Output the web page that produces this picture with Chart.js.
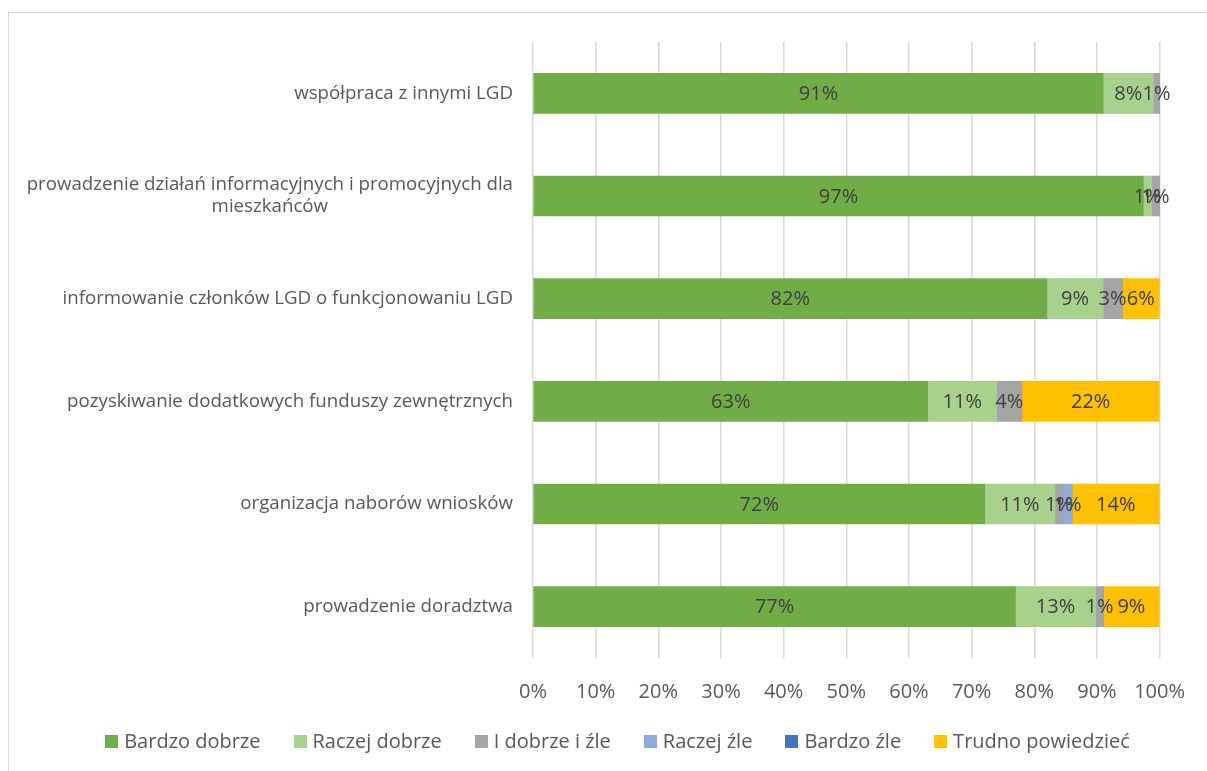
<!DOCTYPE html>
<html>
<head>
<meta charset="utf-8">
<script src="https://cdn.jsdelivr.net/npm/chart.js"></script>
<style>
  html, body { margin: 0; padding: 0; background: #fff; overflow: hidden; }
  #wrap { position: relative; width: 1207px; height: 771px; }
  #frame { position: absolute; left: 8px; top: 12px; width: 1210px; height: 780px; border: 1px solid #d9d9d9; box-sizing: border-box; }
  canvas { position: absolute; left: 0; top: 0; }
  #legend { position: absolute; left: 28px; width: 1179px; top: 728px; display: flex; justify-content: center; gap: 33px;
            font-family: 'Open Sans', 'Liberation Sans', sans-serif; font-size: 20px; color: #595959; line-height: 26px; }
  #legend span.item { display: flex; align-items: center; white-space: nowrap; }
  #legend span.box { display: inline-block; width: 13px; height: 13px; margin-right: 6px; }
</style>
</head>
<body>
<div id="wrap">
  <div id="frame"></div>
  <canvas id="chart" width="1207" height="771"></canvas>
  <div id="legend"></div>
</div>
<script>
const categories = [
  'współpraca z innymi LGD',
  ['prowadzenie działań informacyjnych i promocyjnych dla', 'mieszkańców'],
  'informowanie członków LGD o funkcjonowaniu LGD',
  'pozyskiwanie dodatkowych funduszy zewnętrznych',
  'organizacja naborów wniosków',
  'prowadzenie doradztwa'
]
const seriesNames = ['Bardzo dobrze', 'Raczej dobrze', 'I dobrze i źle', 'Raczej źle', 'Bardzo źle', 'Trudno powiedzieć']
const bardzoDobrze = [91, 97.4, 82, 63, 72.1, 77]
const raczejDobrze = [8, 1.3, 9, 11, 11.2, 12.8]
const iDobrzeIZle = [1, 1.3, 3, 4, 1.3, 1.2]
const raczejZle = [0, 0, 0, 0, 1.4, 0]
const bardzoZle = [0, 0, 0, 0, 0, 0]
const trudnoPowiedziec = [0, 0, 6, 22, 14, 9]
const xTicks = [0, 10, 20, 30, 40, 50, 60, 70, 80, 90, 100]

const colors = ['#70AD47', '#A9D18E', '#A5A5A5', '#8FAADC', '#4472C4', '#FFC000']
const allSeries = [bardzoDobrze, raczejDobrze, iDobrzeIZle, raczejZle, bardzoZle, trudnoPowiedziec]

const FONT = "'Open Sans', 'Liberation Sans', sans-serif"
const TEXT = '#595959'

// y labels drawn by hand so the wrapped one can be centred like Excel does
const yLabels = {
  id: 'yLabels',
  afterDraw(chart) {
    const ctx = chart.ctx
    const y = chart.scales.y
    ctx.save()
    ctx.font = '18.7px ' + FONT
    ctx.fillStyle = TEXT
    ctx.textBaseline = 'middle'
    const right = chart.chartArea.left - 20
    categories.forEach((c, i) => {
      const lines = Array.isArray(c) ? c : [c]
      const cy = y.getPixelForValue(i)
      const lh = 22
      const w = Math.max(...lines.map(l => ctx.measureText(l).width))
      const cx = right - w / 2
      ctx.textAlign = 'center'
      lines.forEach((l, k) => {
        ctx.fillText(l, cx, cy + (k - (lines.length - 1) / 2) * lh)
      })
    })
    ctx.restore()
  }
}

// value labels in the middle of each segment
const valueLabels = {
  id: 'valueLabels',
  afterDatasetsDraw(chart) {
    const ctx = chart.ctx
    ctx.save()
    ctx.font = '20px ' + FONT
    ctx.fillStyle = '#404040'
    ctx.textAlign = 'center'
    ctx.textBaseline = 'middle'
    chart.data.datasets.forEach((ds, di) => {
      const meta = chart.getDatasetMeta(di)
      meta.data.forEach((bar, i) => {
        const v = ds.data[i]
        if (!v) return
        const x = (bar.x + bar.base) / 2
        ctx.fillText(Math.round(v) + '%', x, bar.y + 1)
      })
    })
    ctx.restore()
  }
}

const chart = new Chart(document.getElementById('chart'), {
  type: 'bar',
  data: {
    labels: categories,
    datasets: seriesNames.map((name, i) => ({
      label: name,
      data: allSeries[i],
      backgroundColor: colors[i],
      borderWidth: 0,
      barThickness: 40
    }))
  },
  options: {
    indexAxis: 'y',
    responsive: false,
    animation: false,
    layout: { padding: { top: 42, right: 41, bottom: 45, left: 0 } },
    scales: {
      x: {
        stacked: true,
        min: 0,
        max: 100,
        afterBuildTicks: s => { s.ticks = xTicks.map(v => ({ value: v })) },
        grid: { color: '#d9d9d9', lineWidth: 1.5, drawTicks: false },
        border: { display: false },
        ticks: {
          color: TEXT,
          font: { family: FONT, size: 20 },
          padding: 22,
          callback: v => v + '%'
        }
      },
      y: {
        stacked: true,
        grid: { display: false },
        border: { display: false },
        ticks: { display: false },
        afterFit: s => { s.width = 533 }
      }
    },
    plugins: {
      legend: { display: false },
      tooltip: { enabled: false }
    }
  },
  plugins: [yLabels, valueLabels]
})

// html legend built from the chart's datasets
const legendEl = document.getElementById('legend')
chart.data.datasets.forEach(ds => {
  const item = document.createElement('span')
  item.className = 'item'
  item.innerHTML = `<span class="box" style="background:${ds.backgroundColor}"></span>${ds.label}`
  legendEl.appendChild(item)
})
</script>
</body>
</html>
